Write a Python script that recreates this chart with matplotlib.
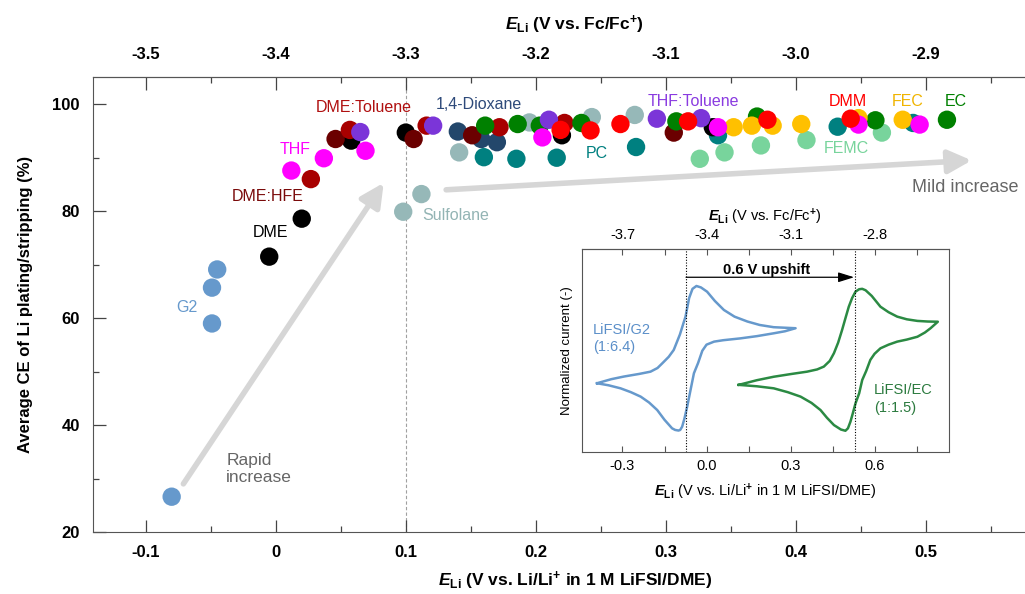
import matplotlib
matplotlib.use("Agg")
import matplotlib.pyplot as plt
from matplotlib.ticker import MultipleLocator, FixedLocator, FuncFormatter

plt.rcParams['font.family'] = ['Liberation Sans', 'DejaVu Sans']
plt.rcParams['axes.unicode_minus'] = False
plt.rcParams['mathtext.fontset'] = 'custom'
plt.rcParams['mathtext.rm'] = 'Liberation Sans:bold'
plt.rcParams['mathtext.it'] = 'Liberation Sans:italic:bold'
plt.rcParams['mathtext.bf'] = 'Liberation Sans:bold'

# ---- main data: E_Li (V vs Li/Li+ in 1 M LiFSI/DME) and average CE (%)
sulfolane_x = [0.098, 0.112, 0.141, 0.195, 0.243, 0.276]
sulfolane_y = [79.9, 83.2, 91.0, 96.6, 97.6, 98.0]
pc_x = [0.160, 0.185, 0.216, 0.277, 0.340, 0.432, 0.490]
pc_y = [90.1, 89.8, 90.0, 92.0, 94.2, 95.8, 96.5]
femc_x = [0.326, 0.345, 0.373, 0.408, 0.466]
femc_y = [89.8, 91.0, 92.3, 93.3, 94.7]
g2_x = [-0.080, -0.045, -0.049, -0.049]
g2_y = [26.6, 69.1, 65.7, 59.0]
dme_x = [-0.005, 0.020, 0.058, 0.100, 0.220, 0.336]
dme_y = [71.5, 78.6, 93.2, 94.7, 94.2, 95.7]
dioxane_x = [0.140, 0.158, 0.170]
dioxane_y = [94.9, 93.5, 92.9]
dmehfe_x = [0.046, 0.106, 0.151, 0.306]
dmehfe_y = [93.5, 93.5, 94.2, 94.7]
dmetol_x = [0.027, 0.057, 0.116, 0.172, 0.222]
dmetol_y = [86.0, 95.2, 96.0, 95.7, 96.5]
ec_x = [0.161, 0.186, 0.203, 0.235, 0.308, 0.370, 0.461, 0.516]
ec_y = [96.0, 96.3, 96.0, 96.5, 96.8, 97.7, 97.0, 97.1]
fec_x = [0.352, 0.366, 0.382, 0.404, 0.448, 0.482]
fec_y = [95.7, 96.0, 96.0, 96.3, 97.4, 97.1]
thftol_x = [0.065, 0.121, 0.210, 0.293, 0.327]
thftol_y = [94.8, 96.0, 97.1, 97.3, 97.4]
thf_x = [0.012, 0.037, 0.069, 0.205, 0.340, 0.448, 0.495]
thf_y = [87.6, 89.9, 91.3, 93.8, 95.7, 96.2, 96.2]
dmm_x = [0.219, 0.242, 0.265, 0.317, 0.378, 0.442]
dmm_y = [95.2, 95.1, 96.3, 96.8, 97.1, 97.3]

# ---- inset CV data (E in V, normalized current)
g2_fwd_x = [-0.391, -0.340, -0.295, -0.240, -0.200, -0.175, -0.158, -0.135, -0.117, -0.095,
            -0.075, -0.062, -0.050, -0.036, -0.020, 0.002, 0.030, 0.062, 0.100, 0.146,
            0.190, 0.240, 0.318]
g2_fwd_y = [0.340, 0.360, 0.373, 0.386, 0.397, 0.415, 0.438, 0.470, 0.504, 0.580,
            0.668, 0.760, 0.805, 0.819, 0.812, 0.791, 0.745, 0.701, 0.668, 0.644,
            0.627, 0.616, 0.611]
g2_rev_x = [0.318, 0.280, 0.240, 0.180, 0.121, 0.060, 0.027, 0.000, -0.015, -0.030,
            -0.045, -0.058, -0.069, -0.079, -0.087, -0.094, -0.100, -0.112, -0.123, -0.150,
            -0.176, -0.205, -0.235, -0.270, -0.307, -0.350, -0.391]
g2_rev_y = [0.611, 0.596, 0.586, 0.572, 0.561, 0.552, 0.545, 0.530, 0.500, 0.440,
            0.389, 0.300, 0.225, 0.165, 0.126, 0.110, 0.107, 0.110, 0.118, 0.160,
            0.208, 0.245, 0.274, 0.296, 0.315, 0.330, 0.340]
ec_fwd_x = [0.115, 0.180, 0.240, 0.300, 0.359, 0.395, 0.419, 0.440, 0.455, 0.470,
            0.484, 0.496, 0.508, 0.520, 0.532, 0.545, 0.556, 0.568, 0.590, 0.621,
            0.650, 0.681, 0.715, 0.753, 0.790, 0.826]
ec_fwd_y = [0.332, 0.355, 0.372, 0.385, 0.397, 0.408, 0.422, 0.450, 0.488, 0.540,
            0.602, 0.660, 0.717, 0.760, 0.791, 0.803, 0.805, 0.798, 0.770, 0.717,
            0.690, 0.668, 0.655, 0.647, 0.644, 0.643]
ec_rev_x = [0.826, 0.800, 0.780, 0.753, 0.715, 0.681, 0.650, 0.621, 0.600, 0.585,
            0.570, 0.556, 0.545, 0.532, 0.522, 0.514, 0.505, 0.496, 0.480, 0.455,
            0.430, 0.407, 0.375, 0.336, 0.290, 0.240, 0.180, 0.115]
ec_rev_y = [0.643, 0.611, 0.590, 0.569, 0.555, 0.545, 0.530, 0.512, 0.485, 0.455,
            0.400, 0.356, 0.290, 0.241, 0.190, 0.151, 0.118, 0.106, 0.112, 0.134,
            0.170, 0.208, 0.243, 0.274, 0.296, 0.315, 0.325, 0.332]

series = [
    ("Sulfolane", sulfolane_x, sulfolane_y, "#96b8b8", (0.138, 79.2), "#93b4b4"),
    ("PC", pc_x, pc_y, "#008080", (0.247, 90.7), "#008080"),
    ("FEMC", femc_x, femc_y, "#78d49c", (0.439, 91.7), "#78d49c"),
    ("G2", g2_x, g2_y, "#6699cc", (-0.068, 61.9), "#6699cc"),
    ("DME", dme_x, dme_y, "#000000", (-0.004, 76.1), "#000000"),
    ("1,4-Dioxane", dioxane_x, dioxane_y, "#23476b", (0.156, 99.9), "#2e4a7a"),
    ("DME:HFE", dmehfe_x, dmehfe_y, "#6b0000", (-0.006, 82.7), "#7a0a0a"),
    ("DME:Toluene", dmetol_x, dmetol_y, "#a80000", (0.068, 99.3), "#b01010"),
    ("EC", ec_x, ec_y, "#008000", (0.523, 100.5), "#008000"),
    ("FEC", fec_x, fec_y, "#ffc000", (0.486, 100.5), "#f0b400"),
    ("THF:Toluene", thftol_x, thftol_y, "#7b35d8", (0.321, 100.5), "#8a3be0"),
    ("THF", thf_x, thf_y, "#ff00ff", (0.015, 91.5), "#ff00ff"),
    ("DMM", dmm_x, dmm_y, "#ff0000", (0.440, 100.5), "#ff0000"),
]

fig = plt.figure(figsize=(10.25, 5.94), dpi=100)
ax = fig.add_axes([0.0907, 0.1044, 0.9093, 0.766])

ax.axvline(0.1, color="#a0a0a0", lw=0.8, ls=(0, (3, 2)), zorder=0)

arrow_style = dict(arrowstyle="-|>,head_length=0.7,head_width=0.35", color="#d6d6d6",
                   lw=4, shrinkA=0, shrinkB=0, mutation_scale=20)
ax.annotate("", xy=(0.083, 85.3), xytext=(-0.071, 29.0), arrowprops=arrow_style, zorder=1)
ax.annotate("", xy=(0.535, 89.5), xytext=(0.131, 84.0), arrowprops=arrow_style, zorder=1)
ax.text(-0.038, 34.7, "Rapid\nincrease", color="#666666", fontsize=12.5, ha="left", va="top",
        linespacing=1.1)
ax.text(0.489, 84.4, "Mild increase", color="#666666", fontsize=13, ha="left", va="center")

for name, xs, ys, col, (lx, ly), tcol in series:
    ax.scatter(xs, ys, s=175, color=col, edgecolors="none", zorder=3)
    ax.text(lx, ly, name, color=tcol, fontsize=11.5, ha="center", va="center", zorder=4)

ax.set_xlim(-0.1405, 0.576)
ax.set_ylim(20, 105.1)
ax.xaxis.set_major_locator(MultipleLocator(0.1))
ax.xaxis.set_minor_locator(MultipleLocator(0.05))
ax.yaxis.set_major_locator(MultipleLocator(20))
ax.yaxis.set_minor_locator(MultipleLocator(10))
ax.xaxis.set_major_formatter(FuncFormatter(lambda v, p: "0" if abs(v) < 1e-9 else f"{v:.1f}"))
ax.tick_params(which="both", direction="in", colors="#444444", labelcolor="black",
               labelsize=12, width=0.9, pad=9.5)
ax.tick_params(which="major", length=9)
ax.tick_params(which="minor", length=4)
for lab in ax.get_xticklabels() + ax.get_yticklabels():
    lab.set_fontweight("bold")
for side in ["left", "bottom", "top"]:
    ax.spines[side].set_color("#555555")
ax.spines["right"].set_visible(False)

ax.set_xlabel(r"$E_{\rm Li}$ (V vs. Li/Li$^{+}$ in 1 M LiFSI/DME)", fontsize=12.5,
              fontweight="bold")
ax.xaxis.set_label_coords(0.517, -0.083)
ax.set_ylabel("Average CE of Li plating/stripping (%)", fontsize=12, fontweight="bold", labelpad=14)

top = ax.secondary_xaxis("top", functions=(lambda x: x - 3.4, lambda x: x + 3.4))
top.xaxis.set_major_locator(FixedLocator([-3.5, -3.4, -3.3, -3.2, -3.1, -3.0, -2.9]))
top.xaxis.set_minor_locator(FixedLocator([-3.55, -3.45, -3.35, -3.25, -3.15, -3.05, -2.95, -2.85]))
top.xaxis.set_major_formatter(FuncFormatter(lambda v, p: f"{v:.1f}"))
top.tick_params(which="both", direction="in", colors="#444444", labelcolor="black",
                labelsize=12, width=0.9, pad=10.5)
top.tick_params(which="major", length=9)
top.tick_params(which="minor", length=4)
for lab in top.get_xticklabels():
    lab.set_fontweight("bold")
top.spines["top"].set_color("#555555")
ax.text(0.517, 1.114, r"$E_{\rm Li}$ (V vs. Fc/Fc$^{+}$)", transform=ax.transAxes,
        fontsize=12.5, fontweight="bold", ha="center", va="center")

# ---- inset
ins = fig.add_axes([0.5675, 0.2386, 0.3584, 0.3418])
ins.plot(g2_fwd_x + g2_rev_x, g2_fwd_y + g2_rev_y, color="#6699cc", lw=1.8)
ins.plot(ec_fwd_x + ec_rev_x, ec_fwd_y + ec_rev_y, color="#2b8a43", lw=1.8)
ins.axvline(-0.073, color="black", lw=0.8, ls=(0, (1, 1.5)))
ins.axvline(0.529, color="black", lw=0.8, ls=(0, (1, 1.5)))
ins.annotate("", xy=(0.527, 0.862), xytext=(-0.073, 0.862),
             arrowprops=dict(arrowstyle="-|>,head_length=0.8,head_width=0.25", color="black",
                             lw=0.9, shrinkA=0, shrinkB=0, mutation_scale=12))
ins.text(0.215, 0.898, "0.6 V upshift", fontsize=10.5, fontweight="bold", ha="center", va="center")
ins.text(-0.405, 0.637, "LiFSI/G2\n(1:6.4)", color="#5b8fc9", fontsize=10.5, ha="left", va="top",
         linespacing=1.3)
ins.text(0.597, 0.34, "LiFSI/EC\n(1:1.5)", color="#2b7a3e", fontsize=10.5, ha="left", va="top",
         linespacing=1.3)
ins.set_xlim(-0.4457, 0.866)
ins.set_ylim(0, 1)
ins.xaxis.set_major_locator(FixedLocator([-0.3, 0.0, 0.3, 0.6]))
ins.xaxis.set_minor_locator(FixedLocator([-0.15, 0.15, 0.45, 0.75]))
ins.xaxis.set_major_formatter(FuncFormatter(lambda v, p: f"{v:.1f}"))
ins.set_yticks([])
ins.tick_params(which="both", direction="in", colors="#555555", labelcolor="black",
                labelsize=10.5, length=4, width=0.8, pad=5)
for s in ins.spines.values():
    s.set_color("#555555")
ins.set_xlabel(r"$E_{\rm Li}$ (V vs. Li/Li$^{+}$ in 1 M LiFSI/DME)", fontsize=10.5, labelpad=6)
ins.set_ylabel("Normalized current (-)", fontsize=9.5, labelpad=6)

itop = ins.secondary_xaxis("top", functions=(lambda x: x - 3.4, lambda x: x + 3.4))
itop.xaxis.set_major_locator(FixedLocator([-3.7, -3.4, -3.1, -2.8]))
itop.xaxis.set_minor_locator(FixedLocator([-3.55, -3.25, -2.95, -2.65]))
itop.xaxis.set_major_formatter(FuncFormatter(lambda v, p: f"{v:.1f}"))
itop.tick_params(which="both", direction="in", colors="#555555", labelcolor="black",
                 labelsize=10.5, length=4, width=0.8, pad=5)
itop.spines["top"].set_color("#555555")
itop.set_xlabel(r"$E_{\rm Li}$ (V vs. Fc/Fc$^{+}$)", fontsize=10.5, labelpad=5)

fig.savefig("out.png", dpi=100)
